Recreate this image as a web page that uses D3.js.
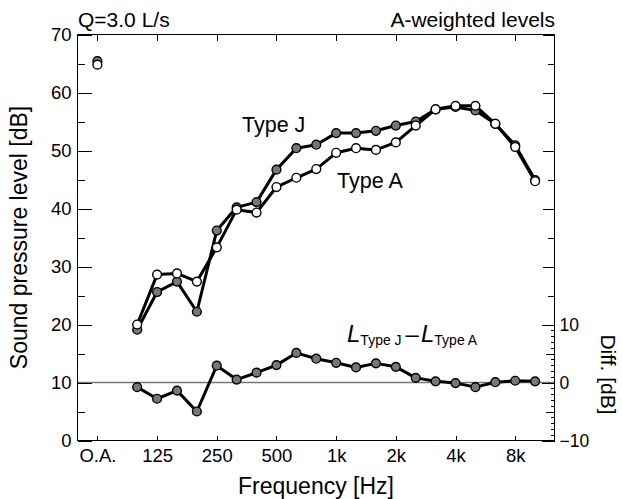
<!DOCTYPE html>
<html>
<head>
<meta charset="utf-8">
<script src="https://cdn.jsdelivr.net/npm/d3@7"></script>
<style>
  body { margin: 0; background: #fff; }
  text { font-family: "Liberation Sans", Arial, sans-serif; fill: #000; }
</style>
</head>
<body>
<svg id="chart" width="622" height="499"></svg>
<script>
// 1/3 octave bands
const bands = ["100", "125", "160", "200", "250", "315", "400", "500", "630", "800",
  "1k", "1.25k", "1.6k", "2k", "2.5k", "3.15k", "4k", "5k", "6.3k", "8k", "10k"];
const typeJ = [19.1, 25.6, 27.4, 22.2, 36.2, 40.2, 41.1, 46.7, 50.4, 51.0,
  53.0, 53.0, 53.4, 54.3, 55.0, 57.1, 57.5, 56.9, 54.6, 50.9, 44.9];
const typeA = [20.0, 28.6, 28.8, 27.4, 33.3, 39.8, 39.3, 43.7, 45.3, 46.8,
  49.6, 50.4, 50.1, 51.4, 54.3, 57.1, 57.7, 57.7, 54.6, 50.6, 44.7];
const diff = [-0.8, -2.8, -1.4, -5.0, 2.9, 0.5, 1.7, 3.0, 5.1, 4.1,
  3.4, 2.6, 3.3, 2.7, 0.8, 0.2, -0.1, -0.8, 0.05, 0.3, 0.2];
const overallJ = 65.4, overallA = 64.8;
const tickLabels = ["O.A.", "125", "250", "500", "1k", "2k", "4k", "8k"];

const pL = 77.5, pR = 554.5, pT = 34.5, pB = 440.5;
const svg = d3.select("#chart");

const x = d3.scalePoint()
  .domain(["O.A.", ""].concat(bands))
  .range([pL, pR + 0.5])
  .padding(1);
const y = d3.scaleLinear().domain([0, 70]).range([pB, pT]);
const yDiff = d3.scaleLinear().domain([-10, 60]).range([pB, pT]);

// zero line of the difference
svg.append("line")
  .attr("x1", pL).attr("x2", pR)
  .attr("y1", yDiff(0)).attr("y2", yDiff(0))
  .attr("stroke", "#777").attr("stroke-width", 1.5);

function cleanAxis(g) {
  g.select(".domain").remove();
  g.selectAll("line").attr("stroke", "#000").attr("shape-rendering", "crispEdges");
  g.selectAll("text").style("font-size", "18.5px").attr("fill", "#000");
}

// left axis
svg.append("g").attr("transform", `translate(${pL},0)`)
  .call(d3.axisLeft(y).tickValues(d3.range(0, 71, 10)).tickSize(-14).tickPadding(6))
  .call(cleanAxis);
svg.append("g").attr("transform", `translate(${pL},0)`)
  .call(d3.axisLeft(y).tickValues(d3.range(5, 70, 10)).tickSize(-7).tickFormat(""))
  .call(cleanAxis);

// bottom and top axes
svg.append("g").attr("transform", `translate(0,${pB})`)
  .call(d3.axisBottom(x).tickValues(tickLabels).tickSize(-5).tickPadding(8))
  .call(cleanAxis);
svg.append("g").attr("transform", `translate(0,${pT})`)
  .call(d3.axisTop(x).tickValues(tickLabels).tickSize(-6).tickFormat(""))
  .call(cleanAxis);

// right axis: level ticks above, difference ticks below
svg.append("g").attr("transform", `translate(${pR},0)`)
  .call(d3.axisRight(y).tickValues(d3.range(30, 71, 10)).tickSize(-12).tickFormat(""))
  .call(cleanAxis);
svg.append("g").attr("transform", `translate(${pR},0)`)
  .call(d3.axisRight(y).tickValues(d3.range(25, 70, 10)).tickSize(-7).tickFormat(""))
  .call(cleanAxis);
svg.append("g").attr("transform", `translate(${pR},0)`)
  .call(d3.axisRight(yDiff).tickValues([-10, 0, 10]).tickSize(-13).tickPadding(5))
  .call(cleanAxis)
  .call(g => g.selectAll("text").style("font-size", "17.5px").attr("x", 5));
svg.append("g").attr("transform", `translate(${pR},0)`)
  .call(d3.axisRight(yDiff).tickValues([-5, 5]).tickSize(-9).tickFormat(""))
  .call(cleanAxis);
svg.append("g").attr("transform", `translate(${pR},0)`)
  .call(d3.axisRight(yDiff).tickValues(d3.range(-9, 10).filter(v => v % 5 !== 0)).tickSize(-4).tickFormat(""))
  .call(cleanAxis);

// frame
svg.append("rect")
  .attr("x", pL).attr("y", pT)
  .attr("width", pR - pL).attr("height", pB - pT)
  .attr("fill", "none").attr("stroke", "#000").attr("stroke-width", 1.2)
  .attr("shape-rendering", "crispEdges");

// series
const rows = bands.map((b, i) => ({ band: b, j: typeJ[i], a: typeA[i], d: diff[i] }));
const line = d3.line().x(d => x(d.band));

function drawLine(acc, scale) {
  svg.append("path").datum(rows)
    .attr("fill", "none").attr("stroke", "#000").attr("stroke-width", 3)
    .attr("stroke-linejoin", "round")
    .attr("d", line.y(d => scale(acc(d))));
}
function drawDots(data, xs, ys, fill) {
  svg.append("g").selectAll("circle").data(data).enter().append("circle")
    .attr("cx", xs).attr("cy", ys).attr("r", 4.4)
    .attr("fill", fill).attr("stroke", "#000").attr("stroke-width", 1.4);
}

drawLine(d => d.j, y);
drawLine(d => d.a, y);
drawLine(d => d.d, yDiff);
drawDots(rows, d => x(d.band), d => y(d.j), "#777");
drawDots(rows, d => x(d.band), d => y(d.a), "#fff");
drawDots(rows, d => x(d.band), d => yDiff(d.d), "#777");
drawDots([overallJ], () => x("O.A."), d => y(d), "#888");
drawDots([overallA], () => x("O.A."), d => y(d), "#fff");

// labels
svg.append("text").attr("x", 78).attr("y", 27).style("font-size", "21px").text("Q=3.0 L/s");
svg.append("text").attr("x", 555).attr("y", 27).attr("text-anchor", "end")
  .style("font-size", "21px").text("A-weighted levels");
svg.append("text").attr("x", 242).attr("y", 132).style("font-size", "21.5px").text("Type J");
svg.append("text").attr("x", 337).attr("y", 188).style("font-size", "21.5px").text("Type A");

const eq = svg.append("text").attr("x", 347).attr("y", 342).style("font-size", "24px");
eq.append("tspan").style("font-style", "italic").text("L");
eq.append("tspan").attr("dy", 3).style("font-size", "14px").text("Type J");
eq.append("tspan").attr("dy", -3).attr("dx", 4).text("\u2013");
eq.append("tspan").attr("dx", 2).style("font-style", "italic").text("L");
eq.append("tspan").attr("dy", 3).style("font-size", "14px").text("Type A");

svg.append("text")
  .attr("transform", `translate(27,${(pT + pB) / 2}) rotate(-90)`)
  .attr("text-anchor", "middle").style("font-size", "23px")
  .text("Sound pressure level [dB]");
svg.append("text")
  .attr("x", (pL + pR) / 2).attr("y", 494)
  .attr("text-anchor", "middle").style("font-size", "23px")
  .text("Frequency [Hz]");
svg.append("text")
  .attr("transform", `translate(601,${yDiff(0) - 8}) rotate(90)`)
  .attr("text-anchor", "middle").style("font-size", "21px")
  .text("Diff. [dB]");
</script>
</body>
</html>
